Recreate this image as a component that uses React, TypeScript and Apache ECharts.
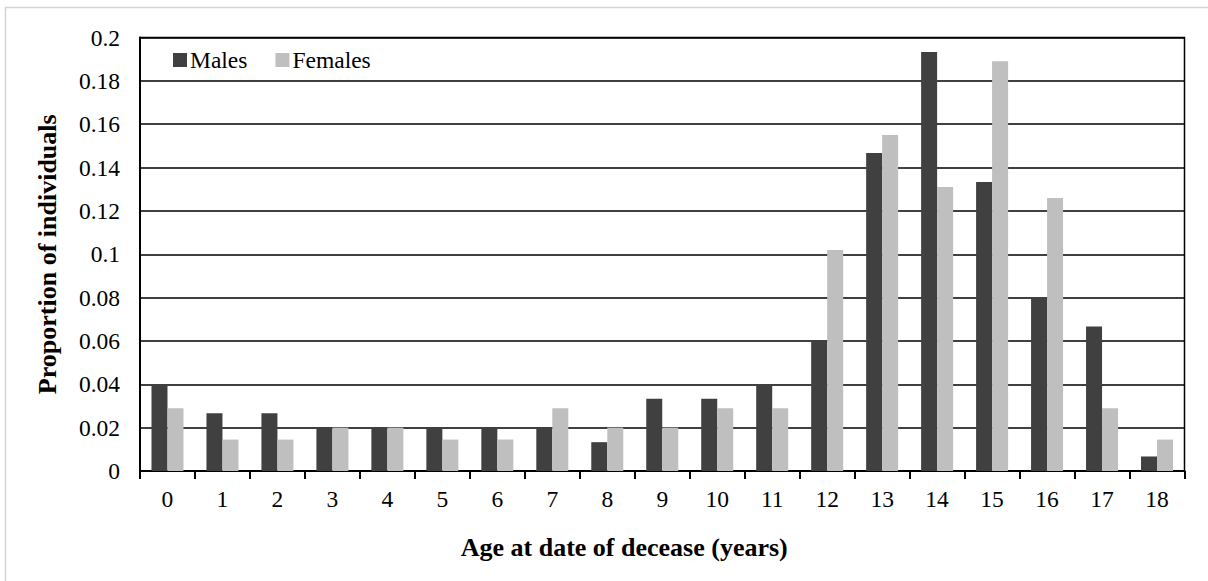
import React, { useEffect, useRef } from "react";
import * as echarts from "echarts";

const categories = ["0","1","2","3","4","5","6","7","8","9","10","11","12","13","14","15","16","17","18"];
const males = [0.04, 0.0267, 0.0267, 0.02, 0.02, 0.02, 0.02, 0.02, 0.0133, 0.0333, 0.0333, 0.04, 0.06, 0.1467, 0.1933, 0.1333, 0.08, 0.0667, 0.0067];
const females = [0.029, 0.0145, 0.0145, 0.02, 0.02, 0.0145, 0.0145, 0.029, 0.02, 0.02, 0.029, 0.029, 0.102, 0.155, 0.131, 0.189, 0.126, 0.029, 0.0145];
const seriesNames = ["Males", "Females"];
const xTitle = "Age at date of decease (years)";
const yTitle = "Proportion of individuals";

const FONT = "Liberation Serif";

export default function App() {
  const ref = useRef<HTMLDivElement>(null);
  useEffect(() => {
    if (!ref.current) return;
    const chart = echarts.init(ref.current, undefined, { renderer: "svg" });
    chart.setOption({
      animation: false,
      backgroundColor: "#ffffff",
      textStyle: { fontFamily: FONT, color: "#000" },
      graphic: [
        {
          type: "rect",
          shape: { x: 5.5, y: 7.5, width: 1210, height: 590 },
          style: { fill: "none", stroke: "#d4d4d4", lineWidth: 1.5 },
          silent: true,
        },
      ],
      legend: {
        left: 173,
        top: 48,
        padding: 0,
        itemWidth: 14,
        itemHeight: 14,
        itemGap: 28,
        icon: "rect",
        data: seriesNames,
        textStyle: { fontFamily: FONT, fontSize: 23.5, color: "#000", padding: [0, 0, 0, -2] },
      },
      grid: {
        left: 140,
        top: 37.5,
        right: 23.5,
        bottom: 110,
        show: true,
        borderColor: "#000",
        borderWidth: 1.5,
        containLabel: false,
      },
      xAxis: {
        type: "category",
        data: categories,
        boundaryGap: true,
        name: xTitle,
        nameLocation: "middle",
        nameGap: 63,
        nameTextStyle: {
          fontFamily: FONT,
          fontSize: 26,
          fontWeight: "bold",
          color: "#000",
          padding: [0, 76, 0, 0],
        },
        axisLine: { show: true, lineStyle: { color: "#000", width: 2 } },
        axisTick: { show: true, length: 8, lineStyle: { color: "#000", width: 2 } },
        axisLabel: { fontFamily: FONT, fontSize: 23.5, color: "#000", margin: 16 },
        splitLine: { show: false },
      },
      yAxis: {
        type: "value",
        min: 0,
        max: 0.2,
        interval: 0.02,
        name: yTitle,
        nameLocation: "middle",
        nameGap: 80,
        nameTextStyle: { fontFamily: FONT, fontSize: 26, fontWeight: "bold", color: "#000" },
        axisLine: { show: true, lineStyle: { color: "#000", width: 2 } },
        axisTick: { show: false },
        axisLabel: {
          fontFamily: FONT,
          fontSize: 23.5,
          color: "#000",
          margin: 20,
          formatter: (v: number) => String(+v.toFixed(2)),
        },
        splitLine: { show: true, lineStyle: { color: "#000", width: 1.5 } },
      },
      series: [
        {
          name: seriesNames[0],
          type: "bar",
          data: males,
          barWidth: 16,
          barGap: "0%",
          itemStyle: { color: "#404040" },
        },
        {
          name: seriesNames[1],
          type: "bar",
          data: females,
          barWidth: 16,
          barGap: "0%",
          itemStyle: { color: "#bfbfbf" },
        },
      ],
    });
    return () => chart.dispose();
  }, []);
  return (
    <div
      ref={ref}
      style={{ position: "fixed", left: 0, top: 0, width: 1208, height: 581, background: "#fff" }}
    />
  );
}
